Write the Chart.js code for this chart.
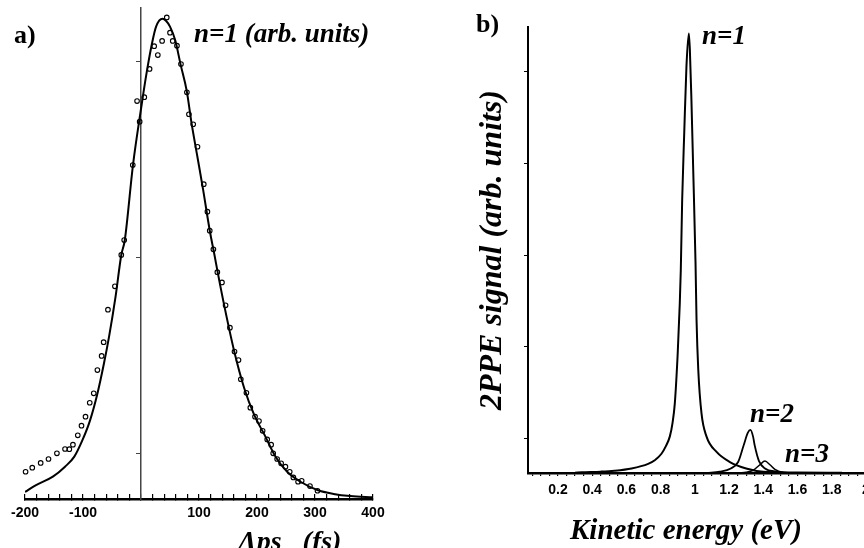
<!DOCTYPE html>
<html lang="en">
  <head>
    <meta charset="UTF-8" />
    <title>n=1 delay scan and 2PPE spectrum</title>
    <script src="https://cdn.jsdelivr.net/npm/chart.js"></script>
    <style>
      html, body { margin: 0; padding: 0; background: #fff; }
      body { width: 864px; height: 548px; overflow: hidden; position: relative; }
      .panel { position: absolute; top: 0; }
      .note {
        position: absolute;
        font-family: "Liberation Serif", "DejaVu Serif", serif;
        font-weight: bold;
        font-style: italic;
        line-height: 1;
        white-space: nowrap;
        color: #000;
      }
      .tag { font-style: normal; }
    </style>
  </head>
  <body>
    <div class="panel" style="left:0;width:430px;height:548px">
      <canvas id="chart-a" width="430" height="548"></canvas>
    </div>
    <div class="panel" style="left:440px;width:450px;height:548px">
      <canvas id="chart-b" width="450" height="548"></canvas>
    </div>

    <div class="note tag" style="left:14px;top:22px;font-size:26px">a)</div>
    <div class="note" style="left:194px;top:20px;font-size:27px">n=1 (arb. units)</div>
    <div class="note" style="left:238px;top:527px;font-size:28px">Λps&nbsp;&nbsp;&nbsp;(fs)</div>

    <div class="note tag" style="left:476px;top:11px;font-size:26px">b)</div>
    <div class="note" style="left:702px;top:22px;font-size:27px">n=1</div>
    <div class="note" style="left:750px;top:400px;font-size:27px">n=2</div>
    <div class="note" style="left:785px;top:440px;font-size:27px">n=3</div>
    <div class="note" style="left:570px;top:515px;font-size:29px">Kinetic energy (eV)</div>

    <script>
      // ---- panel a: pump-probe delay scan of n=1 ----
      const delayFs = [
        -199, -187.5, -173, -159.5, -145, -131, -123.6, -117.4, -109, -102.6,
        -95.7, -88.4, -81.5, -75.2, -67.9, -64.4, -57, -45, -34, -29,
        -14.2, -6.8, -2.3, 5.7, 14.8, 22.7, 29, 36.4, 44.4, 50,
        54.7, 62, 68.9, 79.1, 82.6, 90, 97.4, 108.2, 114.5, 118.5,
        124.8, 131.6, 139.6, 145.8, 153.3, 161.2, 168.1, 172.1, 181.7, 188.5,
        196.6, 203.4, 209.7, 217.6, 224.4, 227.9, 234.7, 241.6, 249, 256.4,
        262.7, 270.8, 277, 291.3, 304.3,
      ];
      const delaySignal = [
        0.139, 0.16, 0.184, 0.204, 0.233, 0.255, 0.254, 0.277, 0.325, 0.374,
        0.42, 0.491, 0.539, 0.658, 0.73, 0.8, 0.966, 1.085, 1.245, 1.321,
        1.704, 2.03, 1.925, 2.05, 2.194, 2.31, 2.265, 2.337, 2.457, 2.379,
        2.337, 2.313, 2.219, 2.075, 1.963, 1.912, 1.797, 1.606, 1.466, 1.369,
        1.274, 1.157, 1.105, 0.988, 0.874, 0.752, 0.709, 0.611, 0.542, 0.466,
        0.42, 0.398, 0.348, 0.304, 0.277, 0.233, 0.204, 0.182, 0.165, 0.139,
        0.11, 0.088, 0.093, 0.066, 0.042,
      ];
      const fitDelayFs = [
        -200, -181, -152, -131, -115, -101, -88, -75, -64, -55, -44, -34, -28,
        -14, 0.5, 10, 19, 26, 37, 43, 50, 59, 68, 79, 87, 97, 107, 118.5,
        127, 132, 144, 161, 178, 195, 213, 232, 252, 275, 304, 332, 361, 400,
      ];
      const fitSignal = [
        0.036, 0.071, 0.114, 0.165, 0.216, 0.3, 0.4, 0.54, 0.69, 0.83, 1.03, 1.245, 1.32,
        1.7, 2.0, 2.18, 2.325, 2.41, 2.45, 2.44, 2.41, 2.34, 2.22, 2.08, 1.92, 1.75, 1.58, 1.37,
        1.24, 1.16, 0.98, 0.75, 0.565, 0.43, 0.327, 0.216, 0.139, 0.088, 0.046, 0.026, 0.015, 0.009,
      ];
      const delayTickLabels = [-200, -100, 100, 200, 300, 400];
      const signalTicksA = [0.23, 1.23, 2.23];

      // ---- panel b: 2PPE spectrum, image-potential states ----
      const energyN1 = [
        0.3, 0.34, 0.45, 0.53, 0.63, 0.727, 0.766, 0.805, 0.83, 0.854, 0.87, 0.883,
        0.9, 0.912, 0.918, 0.926, 0.938, 0.951, 0.965, 0.971, 0.98, 0.99, 1.004,
        1.01, 1.02, 1.039, 1.068, 1.127, 1.205, 1.3, 1.4, 1.6, 1.86,
      ];
      const signalN1 = [
        0.004, 0.008, 0.015, 0.025, 0.05, 0.1, 0.14, 0.21, 0.29, 0.4, 0.55, 0.76,
        1.31, 1.85, 2.22, 2.98, 3.71, 4.44, 4.8, 4.62, 4.08, 3.35, 2.3,
        1.67, 1.13, 0.65, 0.4, 0.23, 0.12, 0.05, 0.015, 0.005, 0.002,
      ];
      const energyN2 = [1.07, 1.146, 1.21, 1.253, 1.285, 1.31, 1.325, 1.34, 1.35, 1.375, 1.41, 1.478, 1.56];
      const signalN2 = [0.0, 0.015, 0.05, 0.12, 0.3, 0.44, 0.47, 0.4, 0.3, 0.13, 0.05, 0.015, 0.0];
      const energyN3 = [1.26, 1.3, 1.341, 1.38, 1.41, 1.439, 1.468, 1.516, 1.56];
      const signalN3 = [0.0, 0.008, 0.03, 0.09, 0.13, 0.09, 0.04, 0.006, 0.0];
      const energyTickLabels = [0.2, 0.4, 0.6, 0.8, 1, 1.2, 1.4, 1.6, 1.8, 2];
      const signalTicksB = [0.38, 1.38, 2.38, 3.38, 4.38];

      const toXY = (xs, ys) => xs.map((x, i) => ({ x: x, y: ys[i] }));

      const tickFont = { family: "'Liberation Sans', Arial, sans-serif", size: 14, weight: "bold" };

      Chart.defaults.animation = false;
      Chart.defaults.color = "#000";

      //left chart
      new Chart(document.getElementById("chart-a"), {
        type: "scatter",
        data: {
          datasets: [
            {
              label: "measured",
              data: toXY(delayFs, delaySignal),
              pointRadius: 2.3,
              pointBorderWidth: 1.1,
              pointBorderColor: "#000",
              pointBackgroundColor: "rgba(0,0,0,0)",
              clip: false,
            },
            {
              label: "fit",
              data: toXY(fitDelayFs, fitSignal),
              showLine: true,
              borderColor: "#000",
              borderWidth: 2,
              pointRadius: 0,
              cubicInterpolationMode: "monotone",
            },
          ],
        },
        options: {
          responsive: false,
          layout: { padding: { left: 22, right: 57, top: 8, bottom: 0 } },
          plugins: { legend: { display: false }, tooltip: { enabled: false } },
          scales: {
            x: {
              type: "linear",
              position: "bottom",
              min: -200,
              max: 400,
              afterFit: (scale) => { scale.height = 49; },
              ticks: {
                stepSize: 20,
                autoSkip: false,
                maxRotation: 0,
                padding: 11,
                font: tickFont,
                callback: (v) => (delayTickLabels.includes(v) ? String(v) : ""),
              },
              grid: { drawOnChartArea: false, tickLength: -5, color: "#000", lineWidth: 1.2 },
              border: { color: "#000", width: 2.5 },
            },
            y: {
              type: "linear",
              position: { x: 0 },
              min: 0,
              max: 2.505,
              afterFit: (scale) => { scale.width = 0; },
              afterBuildTicks: (scale) => { scale.ticks = signalTicksA.map((v) => ({ value: v })); },
              ticks: { display: false },
              grid: { drawOnChartArea: false, tickLength: 4, color: "#444", lineWidth: 1 },
              border: { color: "#444", width: 1.5 },
            },
          },
        },
      });

      //right chart
      const lineStyle = {
        showLine: true,
        borderColor: "#000",
        borderWidth: 2,
        pointRadius: 0,
        cubicInterpolationMode: "monotone",
      };
      new Chart(document.getElementById("chart-b"), {
        type: "scatter",
        data: {
          datasets: [
            { label: "n=1", data: toXY(energyN1, signalN1), ...lineStyle },
            { label: "n=2", data: toXY(energyN2, signalN2), ...lineStyle, borderWidth: 1.8 },
            { label: "n=3", data: toXY(energyN3, signalN3), ...lineStyle, borderWidth: 1.5 },
          ],
        },
        options: {
          responsive: false,
          layout: { padding: { left: 20, right: 15.5, top: 27, bottom: 0 } },
          plugins: { legend: { display: false }, tooltip: { enabled: false } },
          scales: {
            x: {
              type: "linear",
              position: "bottom",
              min: 0.025,
              max: 2.05,
              afterFit: (scale) => { scale.height = 75; },
              afterBuildTicks: (scale) => {
                const t = [];
                for (let i = 1; i <= 41; i++) t.push({ value: Math.round(i * 5) / 100 });
                scale.ticks = t;
              },
              ticks: {
                autoSkip: false,
                maxRotation: 0,
                padding: 6,
                font: tickFont,
                callback: (v) => {
                  const hit = energyTickLabels.find((e) => Math.abs(e - v) < 1e-6);
                  return hit === undefined ? "" : String(hit);
                },
              },
              grid: { drawOnChartArea: false, tickLength: 3, color: "#000", lineWidth: 1.2 },
              border: { color: "#000", width: 2.5 },
            },
            y: {
              type: "linear",
              position: "left",
              min: 0,
              max: 4.87,
              afterFit: (scale) => { scale.width = 68; },
              afterBuildTicks: (scale) => { scale.ticks = signalTicksB.map((v) => ({ value: v })); },
              ticks: { display: false },
              grid: { drawOnChartArea: false, tickLength: 4, color: "#000", lineWidth: 1 },
              border: { color: "#000", width: 2 },
              title: {
                display: true,
                text: "2PPE signal (arb. units)",
                color: "#000",
                padding: { top: 13.3, bottom: 0 },
                font: { family: "'Liberation Serif', serif", size: 32, weight: "bold", style: "italic", lineHeight: 1.2 },
              },
            },
          },
        },
      });
    </script>
  </body>
</html>
